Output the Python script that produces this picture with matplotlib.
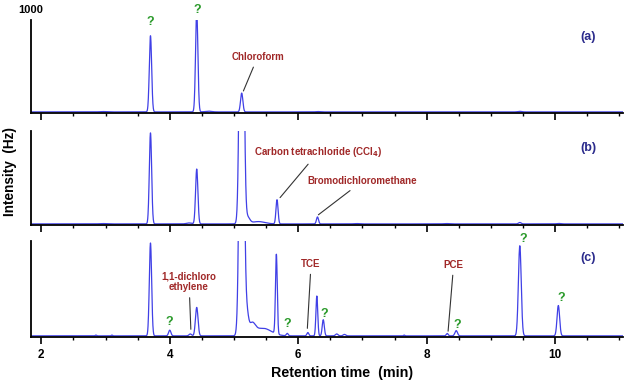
import numpy as np
import matplotlib
matplotlib.use("Agg")
from matplotlib import pyplot as plt
from matplotlib.ticker import MultipleLocator

plt.rcParams['font.family'] = ['Liberation Sans', 'DejaVu Sans']
plt.rcParams['font.weight'] = 'bold'

# peak tables: retention time (min), height, width (sigma, min)
pos_a = [2.95, 3.70, 4.42, 4.60, 5.12, 6.30, 9.45]
hgt_a = [4, 830, 1100, 8, 205, 4, 6]
wid_a = [0.05, 0.018, 0.018, 0.05, 0.018, 0.03, 0.03]

pos_b = [2.95, 3.70, 4.30, 4.42, 5.12, 5.21, 5.38, 5.67, 6.30, 6.90, 8.30, 9.45, 10.05]
hgt_b = [4, 980, 10, 590, 5000, 70, 25, 260, 75, 4, 4, 15, 5]
wid_b = [0.05, 0.018, 0.04, 0.018, 0.028, 0.035, 0.10, 0.016, 0.016, 0.04, 0.04, 0.02, 0.03]

pos_c = [2.85, 3.10, 3.70, 4.00, 4.32, 4.42, 5.12, 5.20, 5.28, 5.45, 5.66, 5.83,
         6.15, 6.29, 6.39, 6.60, 6.72, 7.65, 8.32, 8.46, 9.45, 10.05]
hgt_c = [8, 8, 980, 60, 20, 300, 5000, 200, 110, 80, 840, 25,
         35, 420, 170, 20, 15, 8, 25, 55, 950, 320]
wid_c = [0.01, 0.01, 0.018, 0.018, 0.02, 0.02, 0.03, 0.025, 0.05, 0.13, 0.014, 0.015,
         0.015, 0.014, 0.016, 0.02, 0.02, 0.01, 0.015, 0.02, 0.022, 0.02]

panel_tags = ['(a)', '(b)', '(c)']

x = np.linspace(1.84, 11.05, 4000)


def trace(pos, hgt, wid):
    y = np.zeros_like(x)
    for p, h, w in zip(pos, hgt, wid):
        y += h * np.exp(-0.5 * ((x - p) / w) ** 2)
    return y


fig = plt.figure(figsize=(6.24, 3.81), dpi=100)
boxes = [(0.0497, 0.7034, 0.948, 0.244),
         (0.0497, 0.4094, 0.948, 0.247),
         (0.0497, 0.1155, 0.948, 0.252)]
peaks = [(pos_a, hgt_a, wid_a), (pos_b, hgt_b, wid_b), (pos_c, hgt_c, wid_c)]

line_col = '#4040e6'
q_col = '#2a9a2a'
name_col = '#a02828'
tag_col = '#2b2b8c'

axes = []
for box, (p, h, w), tag in zip(boxes, peaks, panel_tags):
    ax = fig.add_axes(box)
    ax.plot(x, trace(p, h, w), color=line_col, lw=0.9)
    ax.set_xlim(1.84, 11.05)
    ax.set_ylim(-12, 1000)
    for s in ['top', 'right']:
        ax.spines[s].set_visible(False)
    for s in ['left', 'bottom']:
        ax.spines[s].set_linewidth(1.3)
    ax.set_yticks([])
    ax.xaxis.set_major_locator(MultipleLocator(2))
    ax.xaxis.set_minor_locator(MultipleLocator(0.5))
    ax.tick_params(axis='x', which='major', length=5, width=1.2, labelsize=8.5)
    ax.tick_params(axis='x', which='minor', length=2.5, width=1)
    ax.text(10.52, 820, tag, color=tag_col, fontsize=9, ha='center', va='center')
    axes.append(ax)

ax_a, ax_b, ax_c = axes
ax_a.tick_params(labelbottom=False)
ax_b.tick_params(labelbottom=False)

ax_a.text(0.0, 1.11, '1000', transform=ax_a.transAxes, ha='center', va='center', fontsize=8)

qkw = dict(color=q_col, fontsize=9, ha='center', va='center', clip_on=False)
lkw = dict(color=name_col, fontsize=7, ha='center', va='center')
akw = dict(arrowstyle='-', color='#333333', lw=0.8)

# panel (a)
ax_a.text(3.70, 980, '?', **qkw)
ax_a.text(4.43, 1110, '?', **qkw)
ax_a.annotate('Chloroform', xy=(5.13, 200), xytext=(5.37, 600), arrowprops=akw, **lkw)

# panel (b)
ax_b.annotate('Carbon tetrachloride (CCl$_4$)', xy=(5.69, 260), xytext=(6.31, 770),
              arrowprops=akw, **lkw)
ax_b.annotate('Bromodichloromethane', xy=(6.28, 80), xytext=(7.0, 460), arrowprops=akw, **lkw)

# panel (c)
ax_c.annotate('1,1-dichloro\nethylene', xy=(4.33, 40), xytext=(4.3, 570), arrowprops=akw,
              linespacing=1.1, **lkw)
ax_c.annotate('TCE', xy=(6.14, 50), xytext=(6.2, 760), arrowprops=akw, **lkw)
ax_c.annotate('PCE', xy=(8.33, 20), xytext=(8.42, 750), arrowprops=akw, **lkw)
ax_c.text(4.00, 150, '?', **qkw)
ax_c.text(5.83, 120, '?', **qkw)
ax_c.text(6.40, 230, '?', **qkw)
ax_c.text(8.47, 110, '?', **qkw)
ax_c.text(9.50, 1020, '?', **qkw)
ax_c.text(10.10, 400, '?', **qkw)

fig.text(0.548, 0.02, 'Retention time  (min)', ha='center', va='center', fontsize=10.3)
fig.text(0.016, 0.549, 'Intensity  (Hz)', rotation=90, ha='center', va='center', fontsize=9.8)

fig.savefig('out.png', dpi=100)
